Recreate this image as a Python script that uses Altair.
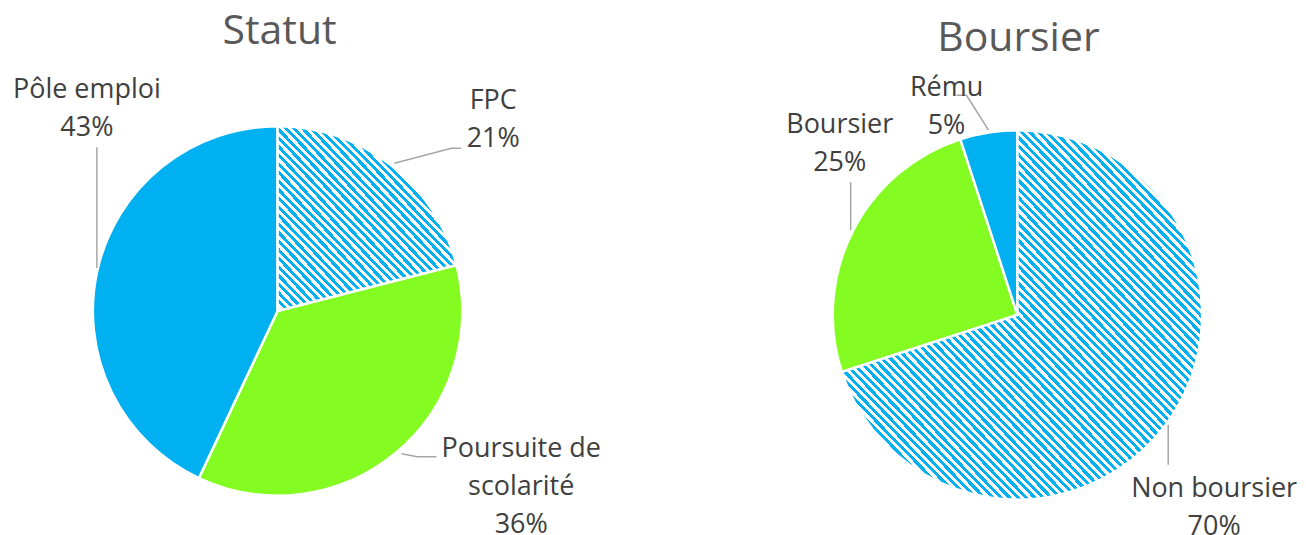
import altair as alt
import pandas as pd

# ---------------- data ----------------
statut_names = ["FPC", "Poursuite de scolarité", "Pôle emploi"]
statut_values = [21, 36, 43]
boursier_names = ["Non boursier", "Boursier", "Rému"]
boursier_values = [70, 25, 5]
titles = ["Statut", "Boursier"]

# ---------------- style / layout ----------------
BLUE = "#00B0F0"
GREEN = "#84FC22"
statut_colors = [BLUE, GREEN, BLUE]
boursier_colors = [BLUE, GREEN, BLUE]
statut_hatched = [True, False, False]
boursier_hatched = [True, False, False]

OFF = 8  # page margin
pie_centers = [(278, 311), (1019, 315)]  # page coords
R = 185
title_pos = [(280, 44), (1020, 51)]
# label anchor (center x, first baseline y), page coords
statut_label_pos = [(494, 109), (522, 457), (87, 98)]
boursier_label_pos = [(1216, 497), (841, 133), (948, 96)]
wrap = {"Poursuite de scolarité": "Poursuite de\nscolarité"}
statut_leaders = [[(395, 163), (452, 148), (462, 148)],
                  [(402, 454), (418, 457), (437, 457)],
                  [(97, 147), (97, 268)]]
boursier_leaders = [[(1170, 425), (1170, 465)],
                    [(852, 182), (852, 230)],
                    [(958, 95), (968, 95), (990, 130)]]

# ---------------- build tables ----------------
rows, labels, leaders = [], [], []
pies = [
    (statut_names, statut_values, statut_colors, statut_hatched, statut_label_pos, statut_leaders),
    (boursier_names, boursier_values, boursier_colors, boursier_hatched, boursier_label_pos, boursier_leaders),
]
for p, (names, vals, cols, hat, lpos, lead) in enumerate(pies):
    total = sum(vals)
    cum = 0.0
    cx, cy = pie_centers[p]
    for i, (n, v) in enumerate(zip(names, vals)):
        t0 = cum / total * 100
        cum += v
        t1 = cum / total * 100
        rows.append({"pie": p, "name": n, "value": v, "t0": t0, "t1": t1,
                     "color": cols[i], "hatched": hat[i],
                     "cx": cx - OFF, "cy": cy - OFF})
        lx, ly = lpos[i]
        labels.append({"text": wrap.get(n, n) + "\n" + f"{round(v / total * 100)}%",
                       "x": lx - OFF, "y": ly - OFF})
        for k, (x, y) in enumerate(lead[i]):
            leaders.append({"id": f"{p}-{i}", "k": k, "x": x - OFF, "y": y - OFF})

slices = pd.DataFrame(rows)
label_df = pd.DataFrame(labels)
leader_df = pd.DataFrame(leaders)
title_df = pd.DataFrame({"text": titles,
                         "x": [t[0] - OFF for t in title_pos],
                         "y": [t[1] - OFF for t in title_pos]})

theta_scale = alt.Scale(domain=[0, 100], range=[0, 6.283185307179586])


def stripes(n_periods, frac=0.5):
    stops = []
    for k in range(n_periods):
        a = k / n_periods
        b = (k + frac) / n_periods
        c = (k + 1) / n_periods
        stops += [{"offset": a, "color": BLUE}, {"offset": b, "color": BLUE},
                  {"offset": b, "color": "white"}, {"offset": c, "color": "white"}]
    return {"gradient": "linear", "x1": 0, "y1": 1, "x2": 1, "y2": 0, "stops": stops}


def arc_enc(ch):
    return ch.encode(
        theta=alt.Theta("t0:Q", scale=theta_scale, stack=False),
        theta2="t1:Q",
        x=alt.X("cx:Q", scale=None, axis=None),
        y=alt.Y("cy:Q", scale=None, axis=None),
    )


solid = arc_enc(
    alt.Chart(slices).transform_filter("!datum.hatched")
    .mark_arc(outerRadius=R, stroke="white", strokeWidth=2.5)
).encode(color=alt.Color("color:N", scale=None))

hatch_layers = []
for _, r in slices[slices["hatched"]].iterrows():
    span = (r["t1"] - r["t0"]) / 100
    n = 86 if span > 0.5 else 43
    hatch_layers.append(
        arc_enc(
            alt.Chart(slices).transform_filter(
                f"datum.pie == {int(r['pie'])} && datum.name == '{r['name']}'")
            .mark_arc(outerRadius=R, stroke="white", strokeWidth=2.5, fill=stripes(n))
        )
    )

lead = alt.Chart(leader_df).mark_line(color="#A6A6A6", strokeWidth=1.5).encode(
    x=alt.X("x:Q", scale=None, axis=None),
    y=alt.Y("y:Q", scale=None, axis=None),
    detail="id:N",
    order="k:Q",
)

lab = alt.Chart(label_df).mark_text(
    font="Open Sans", fontSize=27, color="#404040", align="center",
    baseline="alphabetic", lineBreak="\n", lineHeight=38,
).encode(
    x=alt.X("x:Q", scale=None, axis=None),
    y=alt.Y("y:Q", scale=None, axis=None),
    text="text:N",
)

ttl = alt.Chart(title_df).mark_text(
    font="Open Sans", fontSize=41, color="#595959", align="center", baseline="alphabetic",
).encode(
    x=alt.X("x:Q", scale=None, axis=None),
    y=alt.Y("y:Q", scale=None, axis=None),
    text="text:N",
)

chart = alt.layer(solid, *hatch_layers, lead, lab, ttl).properties(
    width=1290, height=519, padding=0,
).configure_view(stroke=None)

chart.save("out.html", embed_options={"renderer": "svg", "actions": False})
